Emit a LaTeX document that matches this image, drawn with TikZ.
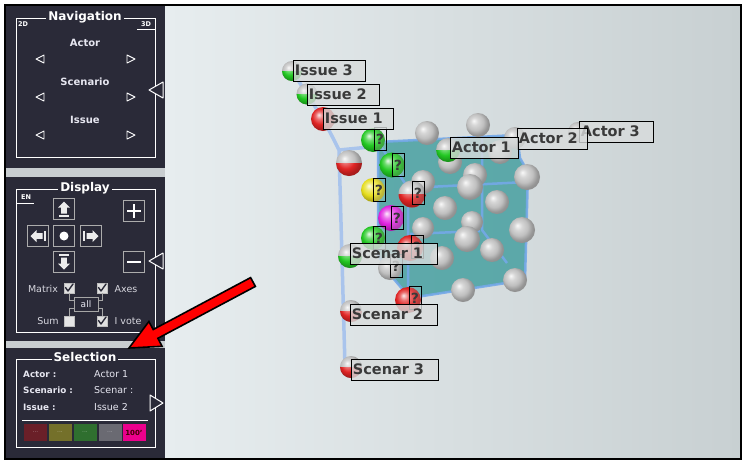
\documentclass[tikz,border=0pt]{standalone}
\usepackage{fontspec}
\setmainfont{DejaVu Sans}
\definecolor{panel}{HTML}{2A2A38}
\definecolor{gapc}{HTML}{C8CDD0}
\definecolor{bgl}{HTML}{E7EDEF}
\definecolor{bgr}{HTML}{C8D0D2}
\definecolor{ptxt}{HTML}{E6E6F0}
\definecolor{axisc}{HTML}{A9C4EC}
\definecolor{cubef}{HTML}{3E9C9C}
\definecolor{cubee}{HTML}{74A8E8}
\definecolor{labf}{HTML}{D9DCDC}
\definecolor{labt}{HTML}{3A3A3A}
\definecolor{sgray}{HTML}{C0C0C0}
\definecolor{sgreen}{HTML}{22C822}
\definecolor{sred}{HTML}{E02424}
\definecolor{syel}{HTML}{E6DE1E}
\definecolor{smag}{HTML}{E024E0}
\definecolor{swr}{HTML}{6A1F28}
\definecolor{swo}{HTML}{74702A}
\definecolor{swg}{HTML}{2F6F2F}
\definecolor{swy}{HTML}{6A6A72}
\makeatletter
\pgfdeclareradialshading[tikz@ball]{softball}{\pgfqpoint{-9bp}{9bp}}{%
  color(0bp)=(tikz@ball!10!white); color(8bp)=(tikz@ball!65!white); color(17bp)=(tikz@ball);
  color(25bp)=(tikz@ball!78!black); color(50bp)=(tikz@ball!55!black)}
\makeatother
\newcommand{\sph}[4]{\shade[ball color=#4,shading=softball] (#1,#2) circle (#3pt);}
\newcommand{\hsph}[4]{\sph{#1}{#2}{#3}{sgray}\begin{scope}\clip (#1-#3-1,#2) rectangle (#1+#3+1,#2+#3+1);\sph{#1}{#2}{#3}{#4}\end{scope}}
\newcommand{\ltri}[2]{\draw[white,line width=0.9,line join=round] (#1-4,#2) -- (#1+4,#2-4) -- (#1+4,#2+4) -- cycle;}
\newcommand{\rtri}[2]{\draw[white,line width=0.9,line join=round] (#1+4,#2) -- (#1-4,#2-4) -- (#1-4,#2+4) -- cycle;}
\newcommand{\barrow}[3]{\begin{scope}[shift={(#1,#2)},rotate=#3]\fill[white!85!gray] (0,-7.5)--(6,-1.5)--(2.8,-1.5)--(2.8,4.5)--(-2.8,4.5)--(-2.8,-1.5)--(-6,-1.5)--cycle;\fill[white!85!gray] (-5,6) rectangle (5,8);\end{scope}}
\newcommand{\chkmark}[2]{\draw[panel,line width=1.4,line cap=round,line join=round] (#1-3.5,#2-0.5) -- (#1-1,#2+3) -- (#1+4,#2-4);}
\begin{document}
\begin{tikzpicture}[x=1pt,y=-1pt,
  ttl/.style={fill=panel,text=white,font=\bfseries\fontsize{12}{14}\selectfont,inner xsep=2pt,inner ysep=1pt},
  hd/.style={text=ptxt,font=\bfseries\fontsize{10}{12}\selectfont,inner sep=0pt},
  tinyt/.style={text=white,font=\bfseries\fontsize{6.5}{7}\selectfont,inner sep=0pt},
  ptx/.style={text=ptxt!85!gray,font=\fontsize{9.5}{11}\selectfont,inner sep=0pt},
  skey/.style={text=ptxt,font=\bfseries\fontsize{8.8}{10}\selectfont,inner sep=0pt,anchor=west},
  sval/.style={text=ptxt,font=\fontsize{9.5}{11}\selectfont,inner sep=0pt,anchor=west},
  btn/.style={draw=gray!65,line width=0.8,fill=panel,minimum size=21pt,inner sep=0pt},
  chk/.style={draw=gray!50,fill=gray!25,minimum size=10pt,inner sep=0pt},
  sw/.style={minimum width=23pt,minimum height=17pt,inner sep=0pt,font=\fontsize{6}{7}\selectfont},
  lab/.style={draw=black,line width=0.9,fill=labf,fill opacity=0.8,text opacity=1,text=labt,
    font=\bfseries\fontsize{14.5}{16}\selectfont,anchor=north west,inner xsep=1.5pt,inner ysep=0pt,
    minimum height=20.5pt,text width=#1,align=left},
  qbox/.style={draw=black,line width=0.8,fill=white,fill opacity=0.15,text opacity=1,text=labt,
    font=\bfseries\fontsize{14}{15}\selectfont,minimum width=12pt,minimum height=23pt,inner sep=0pt}]
\useasboundingbox (0,0) rectangle (743,461);
\fill[white] (0,0) rectangle (743,461);
\fill[gapc] (5,5) rectangle (741,459);
\shade[left color=bgl,right color=bgr] (165,6) rectangle (741,459);
\fill[panel] (5,6) rectangle (165,168);
\fill[panel] (5,177) rectangle (165,341);
\fill[panel] (5,348) rectangle (165,459);
\draw[line width=1.6] (5,5) rectangle (741,459);

% ---------- Navigation ----------
\draw[white,line width=0.8] (16,18) rectangle (155,157);
\node[ttl] (navt) at (85,17) {Navigation};
\node[tinyt] (n2d) at (23,24) {2D};
\node[tinyt] (n3d) at (146,24) {3D};
\draw[white,line width=0.8] (137,29.5) -- (155,29.5);
\node[hd] (nact) at (85,43) {Actor};
\node[hd] (nsce) at (85,82) {Scenario};
\node[hd] (niss) at (85,120) {Issue};
\ltri{40}{59}\rtri{131}{59}
\ltri{40}{97}\rtri{131}{97}
\ltri{40}{135}\rtri{131}{135}
\draw[white,line width=1,fill=panel,line join=round] (149,90) -- (163,82) -- (163,98) -- cycle;

% ---------- Display ----------
\draw[white,line width=0.8] (16,189) rectangle (155,332);
\node[ttl] (dist) at (85,188) {Display};
\node[tinyt] (den) at (26,197) {EN};
\draw[white,line width=0.8] (17,203) -- (34,203);
\node[btn] (bup) at (64,209) {};
\node[btn] (bleft) at (38,236) {};
\node[btn] (bmid) at (64,236) {};
\node[btn] (bright) at (91,236) {};
\node[btn] (bdown) at (64,262) {};
\barrow{64}{209}{0}
\barrow{38}{236}{90}
\barrow{91}{236}{-90}
\barrow{64}{262}{180}
\fill[white] (64,236) circle (4.5pt);
\node[btn] (bplus) at (134,211) {};
\node[btn] (bminus) at (134,262) {};
\draw[white,line width=2] (127,211) -- (141,211) (134,204) -- (134,218);
\draw[white,line width=2] (127,262) -- (141,262);
\draw[white,line width=1,fill=panel,line join=round] (149,261) -- (163,253) -- (163,269) -- cycle;
\node[ptx] (tmat) at (43,289) {Matrix};
\node[chk] (cmat) at (69,288) {};
\chkmark{69}{288}
\node[chk] (caxe) at (102,288) {};
\chkmark{102}{288}
\node[ptx] (taxe) at (126,289) {Axes};
\draw[gray!70,line width=0.8] (69,293) -- (69,300) -- (74,300) (69,316) -- (69,308) -- (74,308)
  (102,293) -- (102,300) -- (98,300) (102,316) -- (102,308) -- (98,308);
\node[draw=gray!70,line width=0.8,fill=panel,text=ptxt,font=\fontsize{9}{10}\selectfont,minimum width=24pt,minimum height=14pt,inner sep=0pt] (tall) at (86,304) {all};
\node[ptx] (tsum) at (48,321) {Sum};
\node[chk,fill=gray!20] (csum) at (69,321) {};
\node[chk] (cvot) at (102,321) {};
\chkmark{102}{321}
\node[ptx] (tvot) at (128,321) {I vote};

% ---------- Selection ----------
\draw[white,line width=0.8] (16,359) rectangle (155,447);
\node[ttl] (selt) at (85,357) {Selection};
\node[skey] (ka) at (23,374) {Actor :};
\node[sval] (va) at (94,374) {Actor 1};
\node[skey] (ks) at (23,390) {Scenario :};
\node[sval] (vs) at (94,390) {Scenar :};
\node[skey] (ki) at (23,407) {Issue :};
\node[sval] (vi) at (94,407) {Issue 2};
\draw[white,line width=1,fill=panel,line join=round] (163,403) -- (150,395) -- (150,411) -- cycle;
\draw[white,line width=1] (22,420) -- (148,420);
\node[sw,fill=swr,text=swr!60!white] (sw1) at (35.5,432.5) {...};
\node[sw,fill=swo,text=swo!60!white] (sw2) at (60,432.5) {...};
\node[sw,fill=swg,text=swg!60!white] (sw3) at (85,432.5) {...};
\node[sw,fill=swy,text=swy!60!white] (sw4) at (110,432.5) {...};
\node[sw,fill=magenta,text=black!75!red,font=\bfseries\fontsize{7}{8}\selectfont] (sw5) at (134,432.5) {100'};

% ---------- red arrow ----------
\draw[fill=red,line width=1.6,line join=miter] (250.6,277.6) -- (153.2,329.5) -- (148.9,321.5) -- (129,348)
  -- (162.1,346.3) -- (157.9,338.3) -- (255.4,286.4) -- cycle;

% ---------- 3D scene ----------
\draw[axisc,line width=3.5,line join=round] (292,71) -- (307,94) -- (323,119) .. controls (332,136) .. (339,150) -- (345,367);
\draw[axisc,line width=3.5] (339,150) -- (380,146);
\fill[cubef,fill opacity=0.8] (378,142) -- (517,135) -- (520,158) -- (528,172) -- (525,280) -- (410,298) -- (393,278) -- (378,255) -- cycle;
\begin{scope}[cubee,line width=2.5,line join=round,opacity=0.9]
\draw (378,142) -- (517,135) -- (520,158) -- (528,172) -- (525,280) -- (410,298) -- (393,278) -- (378,255) -- cycle;
\draw (378,142) -- (408,188) -- (408,298);
\draw (408,188) -- (527,182);
\draw (482,137) -- (482,230) -- (507,263);
\draw (410,234) -- (480,231);
\end{scope}
% gray spheres
\sph{427}{133}{12}{sgray}
\sph{478}{125}{12}{sgray}
\sph{500}{152}{12}{sgray}
\sph{450}{162}{12}{sgray}
\sph{527}{177}{13}{sgray}
\sph{475}{175}{12}{sgray}
\sph{423}{182}{12}{sgray}
\sph{470}{187}{13}{sgray}
\sph{497}{202}{12}{sgray}
\sph{445}{208}{12}{sgray}
\sph{472}{222}{11}{sgray}
\sph{423}{228}{11}{sgray}
\sph{522}{230}{13}{sgray}
\sph{467}{239}{13}{sgray}
\sph{492}{250}{12}{sgray}
\sph{442}{258}{12}{sgray}
\sph{515}{280}{12}{sgray}
\sph{463}{290}{12}{sgray}
\sph{515}{138}{11}{sgray}
\sph{578}{132}{10}{sgray}
% coloured spheres
\sph{373}{140}{12}{sgreen}
\sph{392}{165}{12.5}{sgreen}
\sph{373}{190}{12}{syel}
\hsph{412}{194}{13.5}{sred}
\sph{391}{218}{13}{smag}
\sph{373}{238}{12}{sgreen}
\sph{410}{248}{13}{sred}
\sph{390}{268}{12}{sgray}
\sph{408}{300}{13}{sred}
% axis spheres
\hsph{292}{71}{10}{sgreen}
\hsph{307}{94}{10.5}{sgreen}
\sph{323}{119}{12}{sred}
\hsph{349}{163}{13}{sred}
\hsph{350}{256}{12}{sgreen}
\hsph{351}{311}{11}{sred}
\hsph{351}{367}{11}{sred}
\hsph{448}{150}{12}{sgreen}
% question boxes
\node[qbox] (q1) at (380,139) {?};
\node[qbox] (q2) at (398,165) {?};
\node[qbox] (q3) at (379,190) {?};
\node[qbox] (q4) at (418,193) {?};
\node[qbox] (q5) at (397,218) {?};
\node[qbox] (q6) at (379,238) {?};
\node[qbox] (q7) at (417,247) {?};
\node[qbox] (q8) at (396,266) {?};
\node[qbox] (q9) at (415,298) {?};
% labels
\node[lab=69pt] (li3) at (293,60) {Issue 3};
\node[lab=69pt] (li2) at (307,84) {Issue 2};
\node[lab=67pt] (li1) at (323,108) {Issue 1};
\node[lab=71pt] (la3) at (579,121) {Actor 3};
\node[lab=67pt] (la2) at (517,128) {Actor 2};
\node[lab=65pt] (la1) at (450,137) {Actor 1};
\node[lab=84pt] (ls1) at (350,243) {Scenar 1};
\node[lab=84pt] (ls2) at (350,304) {Scenar 2};
\node[lab=84pt] (ls3) at (351,359) {Scenar 3};
\end{tikzpicture}
\end{document}
